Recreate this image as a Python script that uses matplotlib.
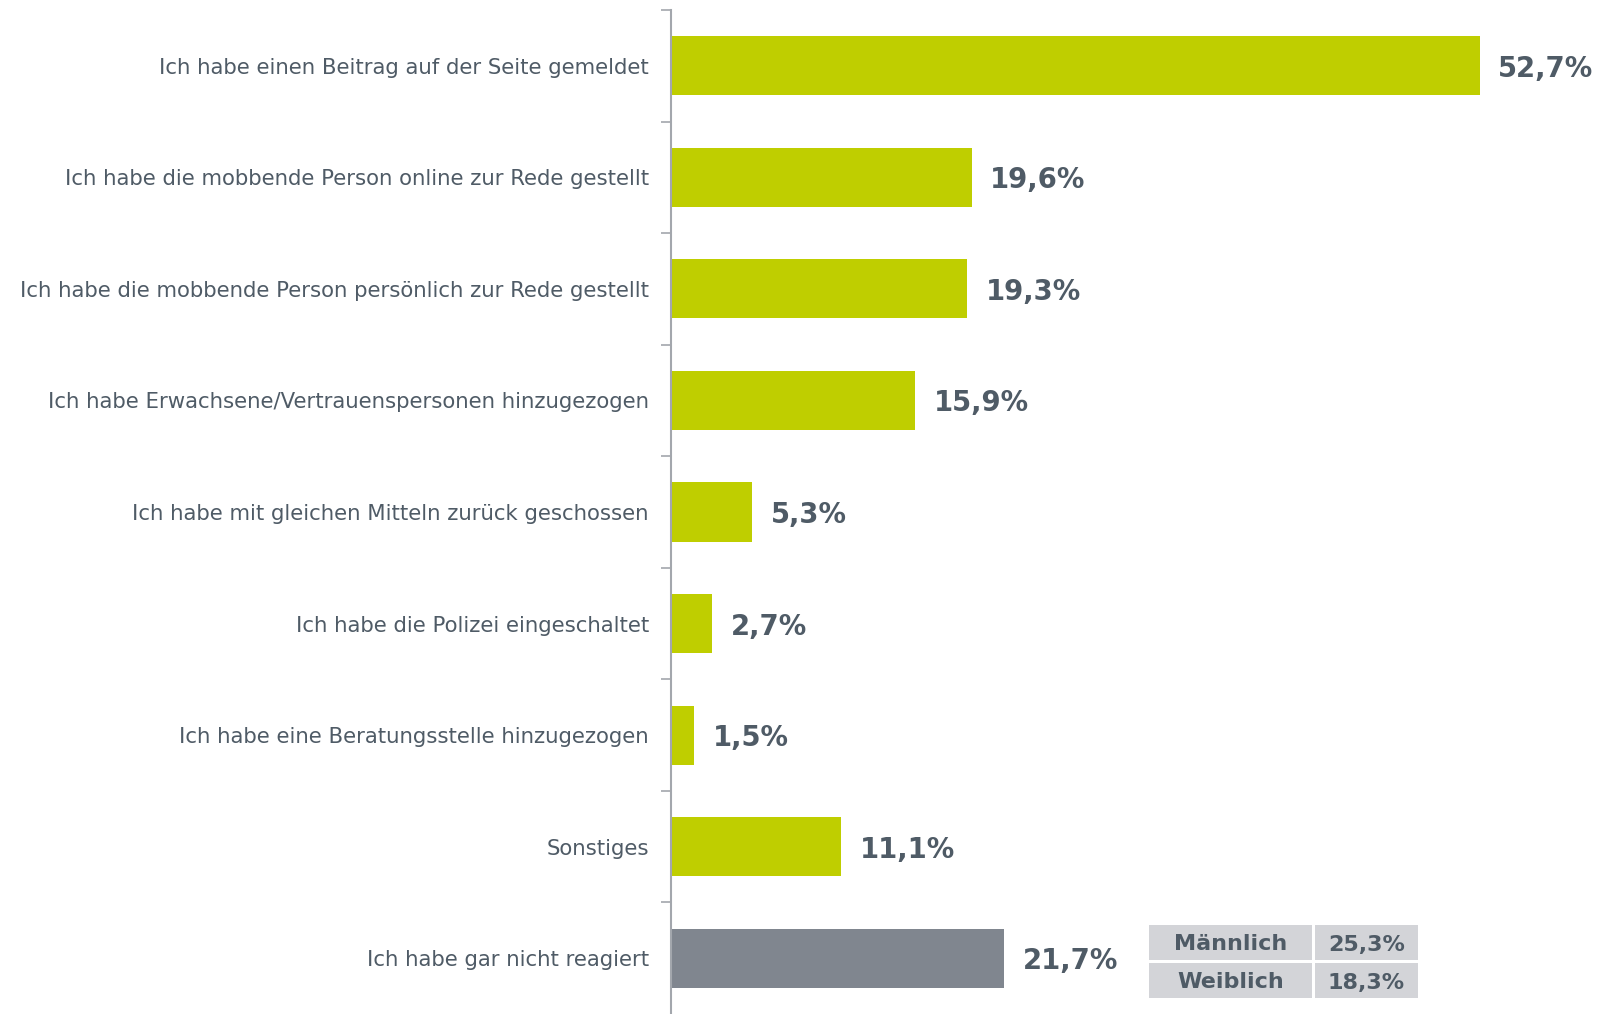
import matplotlib
matplotlib.use("Agg")
import matplotlib.pyplot as plt
from matplotlib.patches import Rectangle
import numpy as np

# data
categories = [
    "Ich habe einen Beitrag auf der Seite gemeldet",
    "Ich habe die mobbende Person online zur Rede gestellt",
    "Ich habe die mobbende Person persönlich zur Rede gestellt",
    "Ich habe Erwachsene/Vertrauenspersonen hinzugezogen",
    "Ich habe mit gleichen Mitteln zurück geschossen",
    "Ich habe die Polizei eingeschaltet",
    "Ich habe eine Beratungsstelle hinzugezogen",
    "Sonstiges",
    "Ich habe gar nicht reagiert",
]
values = [52.7, 19.6, 19.3, 15.9, 5.3, 2.7, 1.5, 11.1, 21.7]
value_labels = ["52,7%", "19,6%", "19,3%", "15,9%", "5,3%", "2,7%", "1,5%", "11,1%", "21,7%"]

gender_labels = ["Männlich", "Weiblich"]
gender_values = ["25,3%", "18,3%"]

GREEN = "#bfce00"
GREY_BAR = "#80868f"
TEXT = "#4f5b66"
SPINE = "#a3a7ad"
CELL = "#d3d4d8"

W, H = 1606, 1014
fig = plt.figure(figsize=(W / 100, H / 100), dpi=100)
ax = fig.add_axes([671 / W, 0, (W - 671) / W, 1 - 10 / H])

n = len(categories)
y = np.arange(n)
colors = [GREEN] * (n - 1) + [GREY_BAR]
ax.barh(y, values, height=0.53, color=colors, zorder=2)

ax.set_xlim(0, (W - 671) / 15.35)
ax.set_ylim(n - 0.5, -0.5)

for yi, v, lab in zip(y, values, value_labels):
    ax.text(v + 1.2, yi, lab, va="center_baseline", ha="left", fontsize=19.8,
            fontweight="bold", color=TEXT)

ax.set_yticks(y)
ax.set_yticklabels(categories, fontsize=15.3, color=TEXT)
ax.tick_params(axis="y", which="major", length=0, pad=16)
ax.set_yticks(np.arange(-0.5, n - 0.5, 1.0), minor=True)
ax.tick_params(axis="y", which="minor", length=7, width=1.2, color=SPINE, direction="out")
ax.set_xticks([])

for s in ["top", "right", "bottom"]:
    ax.spines[s].set_visible(False)
ax.spines["left"].set_color(SPINE)
ax.spines["left"].set_linewidth(1.5)

# small gender table
col_x = [(1149, 1312), (1315, 1418)]
row_y = [(925, 960), (963, 998)]
for r, (glab, gval) in enumerate(zip(gender_labels, gender_values)):
    y0, y1 = row_y[r]
    for c, txt in enumerate([glab, gval]):
        x0, x1 = col_x[c]
        fig.patches.append(Rectangle((x0 / W, 1 - y1 / H), (x1 - x0) / W, (y1 - y0) / H,
                                     transform=fig.transFigure, facecolor=CELL,
                                     edgecolor="none", zorder=1))
        fig.text((x0 + x1) / 2 / W, 1 - (y0 + y1) / 2 / H, txt, ha="center",
                 va="center_baseline", fontsize=16, fontweight="bold", color=TEXT)

fig.savefig("out.png", dpi=100)
